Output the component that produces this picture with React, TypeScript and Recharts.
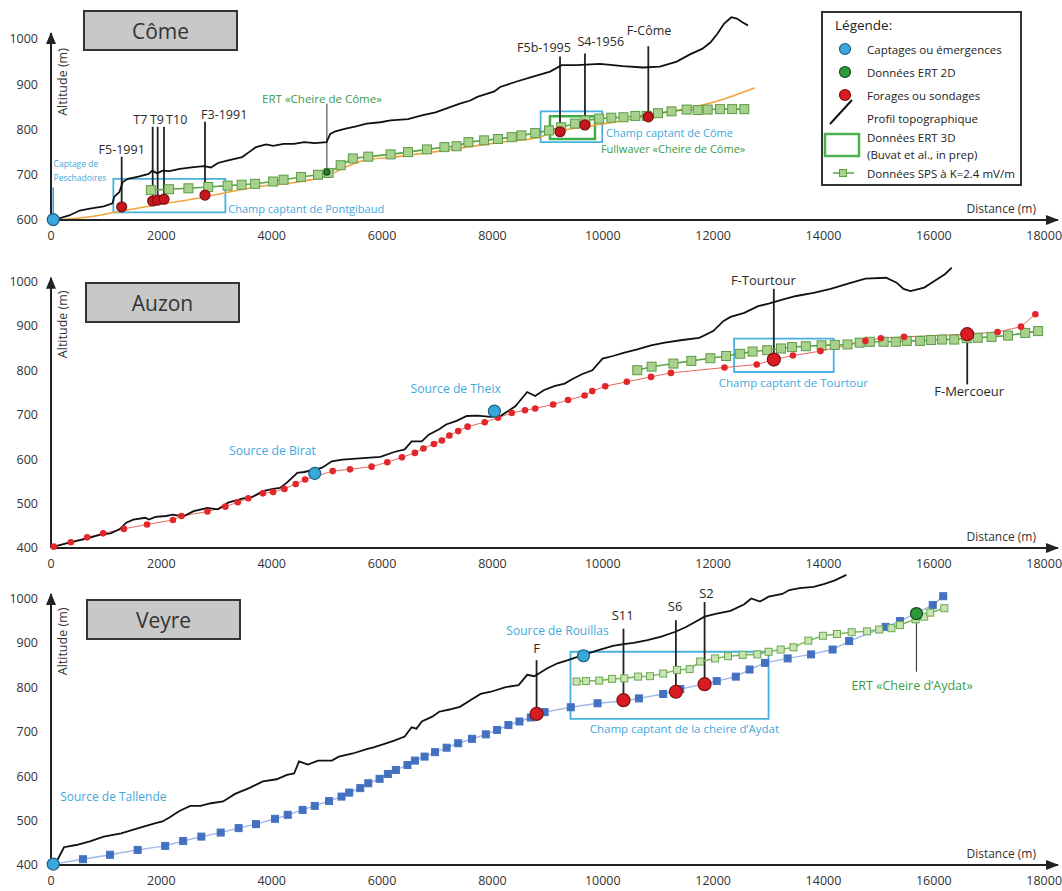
import React from 'react';
import {
	ComposedChart,
	Line,
	Scatter,
	XAxis,
	YAxis,
	ReferenceLine,
	ReferenceArea,
	ReferenceDot,
} from 'recharts';

type Pt = { d: number; alt: number };
type Note = { d: number; alt: number; text: string };
type Bore = { name: string; d: number; alt: number; stemEnd: number; labelD: number; labelAlt: number };
type Zone = { d1: number; d2: number; a1: number; a2: number };

const FONT = '"Open Sans", "Noto Sans", sans-serif';
const DIST_MAX = 18250;
const distanceTicks = [0, 2000, 4000, 6000, 8000, 10000, 12000, 14000, 16000, 18000];

// ---------- Côme ----------
const comeTopo: Pt[] = [
	{ d: 50, alt: 600 }, { d: 330, alt: 610 }, { d: 520, alt: 621 }, { d: 705, alt: 625 }, { d: 955, alt: 630 },
	{ d: 1115, alt: 637 }, { d: 1145, alt: 651 }, { d: 1240, alt: 662 }, { d: 1300, alt: 684 }, { d: 1395, alt: 691 },
	{ d: 1585, alt: 696 }, { d: 1770, alt: 702 }, { d: 1835, alt: 709 }, { d: 1925, alt: 703 }, { d: 2020, alt: 709 },
	{ d: 2145, alt: 708 }, { d: 2335, alt: 713 }, { d: 2585, alt: 717 }, { d: 2775, alt: 719 }, { d: 2900, alt: 716 },
	{ d: 3025, alt: 726 }, { d: 3210, alt: 732 }, { d: 3465, alt: 739 }, { d: 3590, alt: 750 }, { d: 3715, alt: 761 },
	{ d: 3900, alt: 767 }, { d: 4025, alt: 764 }, { d: 4215, alt: 768 }, { d: 4405, alt: 768 }, { d: 4590, alt: 772 },
	{ d: 4780, alt: 770 }, { d: 4995, alt: 772 }, { d: 5060, alt: 790 }, { d: 5155, alt: 796 }, { d: 5340, alt: 802 },
	{ d: 5530, alt: 807 }, { d: 5720, alt: 813 }, { d: 5970, alt: 816 }, { d: 6155, alt: 820 }, { d: 6470, alt: 823 },
	{ d: 6720, alt: 831 }, { d: 6970, alt: 838 }, { d: 7220, alt: 849 }, { d: 7410, alt: 857 }, { d: 7600, alt: 864 },
	{ d: 7725, alt: 872 }, { d: 7910, alt: 879 }, { d: 8035, alt: 884 }, { d: 8140, alt: 894 }, { d: 8440, alt: 906 },
	{ d: 8735, alt: 917 }, { d: 9045, alt: 928 }, { d: 9255, alt: 942 }, { d: 9525, alt: 942 }, { d: 9950, alt: 945 },
	{ d: 10365, alt: 940 }, { d: 10730, alt: 937 }, { d: 11035, alt: 939 }, { d: 11340, alt: 950 }, { d: 11580, alt: 966 },
	{ d: 11800, alt: 978 }, { d: 11950, alt: 992 }, { d: 12080, alt: 1012 }, { d: 12200, alt: 1034 }, { d: 12330, alt: 1048 },
	{ d: 12430, alt: 1045 }, { d: 12530, alt: 1037 }, { d: 12630, alt: 1030 },
];

const comeWaterTable: Pt[] = [
	{ d: 80, alt: 600 }, { d: 705, alt: 607 }, { d: 1280, alt: 620 }, { d: 1895, alt: 633 }, { d: 2790, alt: 651 },
	{ d: 3700, alt: 673 }, { d: 4465, alt: 684 }, { d: 5030, alt: 699 }, { d: 5340, alt: 717 }, { d: 5655, alt: 731 },
	{ d: 6280, alt: 740 }, { d: 6910, alt: 750 }, { d: 7535, alt: 761 }, { d: 8160, alt: 772 }, { d: 8850, alt: 783 },
	{ d: 9120, alt: 794 }, { d: 9745, alt: 807 }, { d: 10375, alt: 820 }, { d: 11000, alt: 835 }, { d: 11500, alt: 846 },
	{ d: 12000, alt: 860 }, { d: 12380, alt: 875 }, { d: 12755, alt: 892 },
];

const comeSps: Pt[] = [
	{ d: 1810, alt: 666 }, { d: 2140, alt: 668 }, { d: 2490, alt: 670 }, { d: 2850, alt: 673 }, { d: 3200, alt: 676 },
	{ d: 3455, alt: 678 }, { d: 3700, alt: 680 }, { d: 4025, alt: 685 }, { d: 4215, alt: 689 }, { d: 4530, alt: 695 },
	{ d: 4840, alt: 700 }, { d: 5030, alt: 704 }, { d: 5250, alt: 721 }, { d: 5470, alt: 736 }, { d: 5750, alt: 740 },
	{ d: 6155, alt: 745 }, { d: 6470, alt: 750 }, { d: 6815, alt: 756 }, { d: 7130, alt: 761 }, { d: 7350, alt: 763 },
	{ d: 7565, alt: 772 }, { d: 7850, alt: 776 }, { d: 8100, alt: 779 }, { d: 8350, alt: 783 }, { d: 8525, alt: 787 },
	{ d: 8775, alt: 792 }, { d: 9025, alt: 798 }, { d: 9245, alt: 805 }, { d: 9495, alt: 813 }, { d: 9685, alt: 820 },
	{ d: 9935, alt: 824 }, { d: 10155, alt: 826 }, { d: 10375, alt: 827 }, { d: 10590, alt: 830 }, { d: 10795, alt: 830 },
	{ d: 11000, alt: 836 }, { d: 11245, alt: 840 }, { d: 11520, alt: 844 }, { d: 11720, alt: 843 }, { d: 11900, alt: 844 },
	{ d: 12125, alt: 845 }, { d: 12345, alt: 845 }, { d: 12565, alt: 845 },
];

const comeBores: Bore[] = [
	{ name: 'F5-1991', d: 1281, alt: 629, stemEnd: 740, labelD: 1281, labelAlt: 755 },
	{ name: 'T7', d: 1843, alt: 642, stemEnd: 806, labelD: 1618, labelAlt: 822 },
	{ name: 'T9', d: 1933, alt: 644, stemEnd: 806, labelD: 1921, labelAlt: 822 },
	{ name: 'T10', d: 2048, alt: 646, stemEnd: 806, labelD: 2278, labelAlt: 822 },
	{ name: 'F3-1991', d: 2791, alt: 655, stemEnd: 817, labelD: 3139, labelAlt: 834 },
	{ name: 'F5b-1995', d: 9225, alt: 795, stemEnd: 961, labelD: 8934, labelAlt: 982 },
	{ name: 'S4-1956', d: 9677, alt: 810, stemEnd: 968, labelD: 9963, labelAlt: 994 },
	{ name: 'F-Côme', d: 10825, alt: 828, stemEnd: 984, labelD: 10838, labelAlt: 1018 },
];
const comeSprings: Pt[] = [{ d: 40, alt: 601 }];
const comeSpringStem = { d: 40, from: 606, to: 672 };
const comeSmallNotes: Note[] = [
	{ d: 47, alt: 724, text: 'Captage de' },
	{ d: 47, alt: 693, text: 'Peschadoires' },
];
const comeErt2d: Pt[] = [{ d: 5000, alt: 706 }];
const comeErtStem = { d: 5000, from: 706, to: 857 };
const comeGreenNotes: Note[] = [{ d: 4911, alt: 868, text: 'ERT «Cheire de Côme»' }];
const comeGreenLeftNotes: Note[] = [{ d: 9966, alt: 757, text: 'Fullwaver «Cheire de Côme»' }];
const comeZones: Zone[] = [
	{ d1: 1130, d2: 3160, a1: 617, a2: 691 },
	{ d1: 8874, d2: 9990, a1: 772, a2: 840 },
];
const comeErt3d: Zone[] = [{ d1: 9043, d2: 9859, a1: 779, a2: 829 }];
const comeBlueLeftNotes: Note[] = [
	{ d: 3212, alt: 625, text: 'Champ captant de Pontgibaud' },
	{ d: 10060, alt: 793, text: 'Champ captant de Côme' },
];

// ---------- Auzon ----------
const auzonTopo: Pt[] = [
	{ d: 50, alt: 403 }, { d: 330, alt: 412 }, { d: 645, alt: 421 }, { d: 895, alt: 430 }, { d: 1080, alt: 433 },
	{ d: 1240, alt: 442 }, { d: 1365, alt: 457 }, { d: 1490, alt: 464 }, { d: 1710, alt: 468 }, { d: 1770, alt: 464 },
	{ d: 1895, alt: 470 }, { d: 2085, alt: 472 }, { d: 2210, alt: 475 }, { d: 2395, alt: 471 }, { d: 2585, alt: 483 },
	{ d: 2835, alt: 490 }, { d: 3025, alt: 487 }, { d: 3210, alt: 502 }, { d: 3465, alt: 511 }, { d: 3650, alt: 515 },
	{ d: 3840, alt: 528 }, { d: 4025, alt: 533 }, { d: 4150, alt: 535 }, { d: 4275, alt: 547 }, { d: 4465, alt: 569 },
	{ d: 4590, alt: 571 }, { d: 4905, alt: 580 }, { d: 5090, alt: 595 }, { d: 5280, alt: 599 }, { d: 5530, alt: 601 },
	{ d: 5720, alt: 603 }, { d: 5970, alt: 605 }, { d: 6220, alt: 616 }, { d: 6410, alt: 622 }, { d: 6535, alt: 640 },
	{ d: 6720, alt: 640 }, { d: 6845, alt: 655 }, { d: 7035, alt: 667 }, { d: 7160, alt: 678 }, { d: 7350, alt: 686 },
	{ d: 7535, alt: 697 }, { d: 7725, alt: 698 }, { d: 7975, alt: 695 }, { d: 8160, alt: 698 }, { d: 8415, alt: 719 },
	{ d: 8630, alt: 751 }, { d: 8775, alt: 742 }, { d: 8930, alt: 755 }, { d: 9120, alt: 764 }, { d: 9310, alt: 770 },
	{ d: 9435, alt: 779 }, { d: 9620, alt: 791 }, { d: 9810, alt: 800 }, { d: 9995, alt: 826 }, { d: 10185, alt: 832 },
	{ d: 10375, alt: 839 }, { d: 10625, alt: 847 }, { d: 10875, alt: 856 }, { d: 11125, alt: 862 }, { d: 11440, alt: 868 },
	{ d: 11750, alt: 873 }, { d: 12000, alt: 888 }, { d: 12190, alt: 911 }, { d: 12315, alt: 920 }, { d: 12565, alt: 929 },
	{ d: 12815, alt: 944 }, { d: 13005, alt: 950 }, { d: 13255, alt: 959 }, { d: 13505, alt: 967 }, { d: 13820, alt: 974 },
	{ d: 14130, alt: 983 }, { d: 14445, alt: 995 }, { d: 14760, alt: 1006 }, { d: 15135, alt: 1008 }, { d: 15325, alt: 997 },
	{ d: 15450, alt: 983 }, { d: 15575, alt: 978 }, { d: 15825, alt: 986 }, { d: 16010, alt: 1001 }, { d: 16200, alt: 1016 },
	{ d: 16325, alt: 1031 },
];

const auzonWaterTable: Pt[] = [
	{ d: 50, alt: 403 }, { d: 360, alt: 413 }, { d: 655, alt: 424 }, { d: 945, alt: 433 }, { d: 1320, alt: 443 },
	{ d: 1740, alt: 453 }, { d: 2210, alt: 463 }, { d: 2365, alt: 472 }, { d: 2835, alt: 482 }, { d: 3160, alt: 493 },
	{ d: 3385, alt: 503 }, { d: 3575, alt: 512 }, { d: 3840, alt: 523 }, { d: 4025, alt: 526 }, { d: 4230, alt: 533 },
	{ d: 4435, alt: 544 }, { d: 4605, alt: 554 }, { d: 5105, alt: 573 }, { d: 5420, alt: 577 }, { d: 5810, alt: 583 },
	{ d: 6095, alt: 593 }, { d: 6360, alt: 604 }, { d: 6595, alt: 614 }, { d: 6750, alt: 624 }, { d: 6940, alt: 634 },
	{ d: 7085, alt: 642 }, { d: 7220, alt: 653 }, { d: 7380, alt: 663 }, { d: 7550, alt: 673 }, { d: 7860, alt: 683 },
	{ d: 8100, alt: 693 }, { d: 8350, alt: 704 }, { d: 8590, alt: 710 }, { d: 8775, alt: 714 }, { d: 9100, alt: 723 },
	{ d: 9370, alt: 733 }, { d: 9670, alt: 743 }, { d: 9810, alt: 753 }, { d: 10045, alt: 764 }, { d: 10435, alt: 774 },
	{ d: 10875, alt: 785 }, { d: 11235, alt: 794 }, { d: 12205, alt: 806 }, { d: 12790, alt: 813 }, { d: 13100, alt: 824 },
	{ d: 13445, alt: 833 }, { d: 13945, alt: 843 }, { d: 14760, alt: 866 }, { d: 15040, alt: 872 }, { d: 15460, alt: 875 },
	{ d: 16605, alt: 881 }, { d: 17155, alt: 886 }, { d: 17580, alt: 898 }, { d: 17840, alt: 926 },
];

const auzonSps: Pt[] = [
	{ d: 10625, alt: 800 }, { d: 10885, alt: 808 }, { d: 11280, alt: 815 }, { d: 11605, alt: 821 }, { d: 11950, alt: 827 },
	{ d: 12235, alt: 832 }, { d: 12490, alt: 837 }, { d: 12715, alt: 842 }, { d: 12980, alt: 845 }, { d: 13230, alt: 849 },
	{ d: 13430, alt: 852 }, { d: 13680, alt: 854 }, { d: 13965, alt: 856 }, { d: 14205, alt: 857 }, { d: 14435, alt: 858 },
	{ d: 14655, alt: 862 }, { d: 14840, alt: 864 }, { d: 15090, alt: 864 }, { d: 15310, alt: 864 }, { d: 15510, alt: 866 },
	{ d: 15750, alt: 866 }, { d: 15950, alt: 868 }, { d: 16150, alt: 869 }, { d: 16370, alt: 869 }, { d: 16595, alt: 872 },
	{ d: 16795, alt: 873 }, { d: 17045, alt: 875 }, { d: 17345, alt: 878 }, { d: 17655, alt: 884 }, { d: 17890, alt: 888 },
];

const auzonBores: Bore[] = [
	{ name: 'F-Tourtour', d: 13100, alt: 824, stemEnd: 983, labelD: 12910, labelAlt: 1004 },
	{ name: 'F-Mercoeur', d: 16605, alt: 881, stemEnd: 768, labelD: 16640, labelAlt: 753 },
];
const auzonSprings: Pt[] = [{ d: 4780, alt: 568 }, { d: 8035, alt: 708 }];
const auzonZones: Zone[] = [{ d1: 12380, d2: 14185, a1: 796, a2: 871 }];
const auzonSourceNotes: Note[] = [
	{ d: 4015, alt: 619, text: 'Source de Birat' },
	{ d: 7335, alt: 758, text: 'Source de Theix' },
];
const auzonFieldNotes: Note[] = [{ d: 13455, alt: 772, text: 'Champ captant de Tourtour' }];

// ---------- Veyre ----------
const veyreTopo: Pt[] = [
	{ d: 80, alt: 404 }, { d: 140, alt: 417 }, { d: 235, alt: 440 }, { d: 455, alt: 445 }, { d: 705, alt: 453 },
	{ d: 955, alt: 464 }, { d: 1270, alt: 471 }, { d: 1585, alt: 483 }, { d: 1895, alt: 494 }, { d: 2020, alt: 498 },
	{ d: 2145, alt: 507 }, { d: 2335, alt: 522 }, { d: 2525, alt: 533 }, { d: 2710, alt: 533 }, { d: 2900, alt: 539 },
	{ d: 3120, alt: 543 }, { d: 3335, alt: 560 }, { d: 3590, alt: 573 }, { d: 3840, alt: 588 }, { d: 4090, alt: 593 },
	{ d: 4275, alt: 603 }, { d: 4405, alt: 606 }, { d: 4495, alt: 633 }, { d: 4655, alt: 626 }, { d: 4840, alt: 635 },
	{ d: 5090, alt: 635 }, { d: 5215, alt: 644 }, { d: 5470, alt: 651 }, { d: 5720, alt: 661 }, { d: 5845, alt: 665 },
	{ d: 6030, alt: 672 }, { d: 6220, alt: 680 }, { d: 6410, alt: 689 }, { d: 6535, alt: 710 }, { d: 6625, alt: 707 },
	{ d: 6720, alt: 723 }, { d: 6910, alt: 734 }, { d: 7035, alt: 745 }, { d: 7220, alt: 750 }, { d: 7410, alt: 756 },
	{ d: 7600, alt: 771 }, { d: 7785, alt: 785 }, { d: 7975, alt: 790 }, { d: 8225, alt: 800 }, { d: 8475, alt: 805 },
	{ d: 8630, alt: 828 }, { d: 8760, alt: 825 }, { d: 8995, alt: 843 }, { d: 9180, alt: 854 }, { d: 9370, alt: 861 },
	{ d: 9650, alt: 873 }, { d: 9935, alt: 884 }, { d: 10185, alt: 893 }, { d: 10375, alt: 897 }, { d: 10560, alt: 900 },
	{ d: 10810, alt: 906 }, { d: 11060, alt: 914 }, { d: 11315, alt: 925 }, { d: 11500, alt: 935 }, { d: 11690, alt: 948 },
	{ d: 11845, alt: 959 }, { d: 12065, alt: 966 }, { d: 12315, alt: 972 }, { d: 12565, alt: 987 }, { d: 12690, alt: 1000 },
	{ d: 12850, alt: 993 }, { d: 13005, alt: 1004 }, { d: 13255, alt: 1010 }, { d: 13380, alt: 1019 }, { d: 13570, alt: 1023 },
	{ d: 13820, alt: 1026 }, { d: 14005, alt: 1032 }, { d: 14195, alt: 1040 }, { d: 14415, alt: 1053 },
];

const veyreWaterTable: Pt[] = [
	{ d: 40, alt: 402 }, { d: 580, alt: 413 }, { d: 1070, alt: 423 }, { d: 1570, alt: 434 }, { d: 2070, alt: 443 },
	{ d: 2395, alt: 454 }, { d: 2725, alt: 464 }, { d: 3075, alt: 473 }, { d: 3400, alt: 483 }, { d: 3715, alt: 492 },
	{ d: 4060, alt: 504 }, { d: 4290, alt: 513 }, { d: 4560, alt: 524 }, { d: 4780, alt: 533 }, { d: 5040, alt: 544 },
	{ d: 5265, alt: 554 }, { d: 5405, alt: 563 }, { d: 5605, alt: 573 }, { d: 5750, alt: 584 }, { d: 5955, alt: 594 },
	{ d: 6105, alt: 605 }, { d: 6250, alt: 614 }, { d: 6460, alt: 625 }, { d: 6595, alt: 635 }, { d: 6770, alt: 644 },
	{ d: 6960, alt: 654 }, { d: 7170, alt: 664 }, { d: 7380, alt: 674 }, { d: 7630, alt: 684 }, { d: 7880, alt: 694 },
	{ d: 8085, alt: 704 }, { d: 8290, alt: 715 }, { d: 8490, alt: 723 }, { d: 8695, alt: 732 }, { d: 8945, alt: 744 },
	{ d: 9420, alt: 755 }, { d: 9905, alt: 764 }, { d: 10380, alt: 769 }, { d: 10655, alt: 775 }, { d: 11095, alt: 785 },
	{ d: 11405, alt: 796 }, { d: 12065, alt: 814 }, { d: 12410, alt: 824 }, { d: 12660, alt: 840 }, { d: 12940, alt: 855 },
	{ d: 13350, alt: 865 }, { d: 13775, alt: 874 }, { d: 14165, alt: 885 }, { d: 14465, alt: 904 }, { d: 15125, alt: 936 },
	{ d: 15385, alt: 949 }, { d: 15980, alt: 985 }, { d: 16170, alt: 1005 },
];

const veyreSps: Pt[] = [
	{ d: 9525, alt: 813 }, { d: 9695, alt: 814 }, { d: 9935, alt: 815 }, { d: 10170, alt: 819 }, { d: 10390, alt: 820 },
	{ d: 10640, alt: 824 }, { d: 10855, alt: 825 }, { d: 11095, alt: 831 }, { d: 11345, alt: 839 }, { d: 11575, alt: 841 },
	{ d: 11765, alt: 858 }, { d: 12035, alt: 865 }, { d: 12270, alt: 870 }, { d: 12535, alt: 873 }, { d: 12800, alt: 874 },
	{ d: 13005, alt: 880 }, { d: 13225, alt: 885 }, { d: 13455, alt: 890 }, { d: 13725, alt: 905 }, { d: 13990, alt: 916 },
	{ d: 14245, alt: 920 }, { d: 14510, alt: 924 }, { d: 14790, alt: 926 }, { d: 15010, alt: 930 }, { d: 15230, alt: 933 },
	{ d: 15385, alt: 940 }, { d: 15670, alt: 953 }, { d: 15825, alt: 959 }, { d: 15935, alt: 968 }, { d: 16190, alt: 978 },
];

const veyreBores: Bore[] = [
	{ name: 'F', d: 8800, alt: 740, stemEnd: 861, labelD: 8800, labelAlt: 888 },
	{ name: 'S11', d: 10375, alt: 771, stemEnd: 932, labelD: 10360, labelAlt: 963 },
	{ name: 'S6', d: 11325, alt: 790, stemEnd: 951, labelD: 11310, labelAlt: 983 },
	{ name: 'S2', d: 11845, alt: 807, stemEnd: 992, labelD: 11880, labelAlt: 1013 },
];
const veyreSprings: Pt[] = [{ d: 40, alt: 402 }, { d: 9650, alt: 871 }];
const veyreErt2d: Pt[] = [{ d: 15685, alt: 966 }];
const veyreErtStem = { d: 15685, from: 961, to: 835 };
const veyreZones: Zone[] = [{ d1: 9415, d2: 13005, a1: 729, a2: 880 }];
const veyreSourceNotes: Note[] = [
	{ d: 1130, alt: 554, text: 'Source de Tallende' },
	{ d: 9180, alt: 927, text: 'Source de Rouillas' },
];
const veyreFieldNotes: Note[] = [{ d: 11480, alt: 708, text: 'Champ captant de la cheire d’Aydat' }];
const veyreGreenNotes: Note[] = [{ d: 15605, alt: 805, text: 'ERT «Cheire d’Aydat»' }];

// ---------- shapes ----------
const INK = '#222';
const BLUE = '#3aa7da';
const BLUE_TXT = '#3fa9dc';
const GREEN_TXT = '#3a9b48';

const textShape = (size: number, color: string, anchor: 'start' | 'middle' = 'middle') => (p: any) => (
	<text
		x={p.cx}
		y={p.cy}
		textAnchor={anchor}
		dominantBaseline="central"
		fontSize={size}
		fill={color}
		fontFamily={FONT}
	>
		{p.payload.text}
	</text>
);

const circleShape = (r: number, fill: string, stroke: string) => (p: any) => (
	<circle cx={p.cx} cy={p.cy} r={r} fill={fill} stroke={stroke} strokeWidth={1.2} />
);

const squareDot = (size: number, fill: string, stroke: string) => (p: any) => (
	<rect
		key={`sq-${p.index}`}
		x={p.cx - size / 2}
		y={p.cy - size / 2}
		width={size}
		height={size}
		fill={fill}
		stroke={stroke}
		strokeWidth={1}
	/>
);

const roundDot = (r: number, fill: string) => (p: any) => (
	<circle key={`rd-${p.index}`} cx={p.cx} cy={p.cy} r={r} fill={fill} />
);

const xArrow = (p: any) => (
	<path d={`M${p.cx + 1},${p.cy} L${p.cx - 12},${p.cy - 5} L${p.cx - 12},${p.cy + 5} Z`} fill={INK} />
);
const yArrow = (p: any) => (
	<path d={`M${p.cx},${p.cy - 1} L${p.cx - 5},${p.cy + 11} L${p.cx + 5},${p.cy + 11} Z`} fill={INK} />
);

const boreStems = (bores: Bore[], key: string) =>
	bores.map((b) => (
		<ReferenceLine
			key={`${key}-${b.name}`}
			segment={[{ x: b.d, y: b.alt }, { x: b.d, y: b.stemEnd }]}
			stroke={INK}
			strokeWidth={1.8}
		/>
	));

const zoneBoxes = (zones: Zone[], key: string, color: string, width: number) =>
	zones.map((z, i) => (
		<ReferenceArea
			key={`${key}-${i}`}
			x1={z.d1}
			x2={z.d2}
			y1={z.a1}
			y2={z.a2}
			fill="none"
			fillOpacity={0}
			stroke={color}
			strokeWidth={width}
		/>
	));

const boreLabels = (bores: Bore[]) => bores.map((b) => ({ d: b.labelD, alt: b.labelAlt, text: b.name }));

interface PanelProps {
	top: number;
	height: number;
	marginTop: number;
	yMin: number;
	yMax: number;
	yTicks: number[];
	arrowAlt: number;
	children: React.ReactNode;
}

const AltitudeLabel = (yMin: number, yMax: number) => (p: any) => {
	const vb = p.viewBox;
	const y1000 = vb.y + vb.height * (1 - (1000 - yMin) / (yMax - yMin));
	const x = vb.x + vb.width + 12;
	const y = y1000 + 43;
	return (
		<text
			x={x}
			y={y}
			transform={`rotate(-90 ${x} ${y})`}
			textAnchor="middle"
			dominantBaseline="central"
			fontSize={12.5}
			fill="#333"
			fontFamily={FONT}
		>
			Altitude (m)
		</text>
	);
};

const DistanceLabel = (p: any) => {
	const vb = p.viewBox;
	return (
		<text
			x={vb.x + vb.width - 22}
			y={vb.y - 12}
			textAnchor="end"
			dominantBaseline="central"
			fontSize={12}
			fill="#333"
			fontFamily={FONT}
		>
			Distance (m)
		</text>
	);
};

const ProfileChart = (props: PanelProps) => {
	const { top, height, marginTop, yMin, yMax, yTicks, arrowAlt } = props;
	return (
		<div style={{ position: 'absolute', left: 0, top }}>
			<ComposedChart width={1062} height={height} margin={{ top: marginTop, right: 4, bottom: 0, left: 11 }}>
				<XAxis
					type="number"
					dataKey="d"
					domain={[0, DIST_MAX]}
					ticks={distanceTicks}
					interval={0}
					height={26}
					tickLine={false}
					tickSize={0}
					tickMargin={11}
					axisLine={{ stroke: INK, strokeWidth: 2 }}
					tick={{ fontSize: 12.5, fill: '#333', fontFamily: FONT }}
					label={{ content: DistanceLabel }}
				/>
				<YAxis
					type="number"
					dataKey="alt"
					domain={[yMin, yMax]}
					ticks={yTicks}
					interval={0}
					width={40}
					axisLine={false}
					tickLine={false}
					tickSize={0}
					tickMargin={13}
					tick={{ fontSize: 12.5, fill: '#333', fontFamily: FONT }}
					label={{ content: AltitudeLabel(yMin, yMax) }}
				/>
				<ReferenceLine
					segment={[{ x: 0, y: yMin }, { x: 0, y: arrowAlt }]}
					stroke={INK}
					strokeWidth={2}
				/>
				<ReferenceDot x={0} y={arrowAlt} r={0} shape={yArrow} />
				<ReferenceDot x={DIST_MAX} y={yMin} r={0} shape={xArrow} />
				{props.children}
			</ComposedChart>
		</div>
	);
};

const TitleBox = (p: { left: number; top: number; text: string }) => (
	<div
		style={{
			position: 'absolute',
			left: p.left,
			top: p.top,
			width: 155,
			height: 41,
			boxSizing: 'border-box',
			background: '#c8c8c8',
			border: '2px solid #333',
			display: 'flex',
			alignItems: 'center',
			justifyContent: 'center',
			fontFamily: FONT,
			fontSize: 21,
			color: '#333',
		}}
	>
		{p.text}
	</div>
);

const legendRows = [
	'Captages ou émergences',
	'Données ERT 2D',
	'Forages ou sondages',
	'Profil topographique',
	'Données ERT 3D',
	'(Buvat et al., in prep)',
	'Données SPS à K=2.4 mV/m',
];

const LegendBox = () => {
	const rowY = [38, 61, 84, 107, 126, 143, 162];
	return (
		<svg style={{ position: 'absolute', left: 821, top: 11 }} width={201} height={175}>
			<rect x={1} y={1} width={199} height={173} fill="#fff" stroke="#333" strokeWidth={2} />
			<text x={14} y={14} dominantBaseline="central" fontSize={13.5} fill="#222" fontFamily={FONT}>
				Légende:
			</text>
			<circle cx={24} cy={rowY[0]} r={5.5} fill={BLUE} stroke="#1d5f86" strokeWidth={1.2} />
			<circle cx={24} cy={rowY[1]} r={5.5} fill="#2f9a3c" stroke="#154d1b" strokeWidth={1.2} />
			<circle cx={24} cy={rowY[2]} r={5.5} fill="#d91c24" stroke="#7a0f0f" strokeWidth={1.2} />
			<line x1={9} y1={113} x2={31} y2={89} stroke="#111" strokeWidth={2} />
			<rect x={4} y={123} width={34} height={22} fill="none" stroke="#4caf50" strokeWidth={2.5} />
			<line x1={12} y1={rowY[6]} x2={33} y2={rowY[6]} stroke="#5aa545" strokeWidth={1.5} />
			<rect x={18.5} y={rowY[6] - 3.5} width={7} height={7} fill="#a9d18e" stroke="#5b9b45" />
			{legendRows.map((t, i) => (
				<text
					key={t}
					x={46}
					y={rowY[i]}
					dominantBaseline="central"
					fontSize={11.5}
					fill="#222"
					fontFamily={FONT}
				>
					{t}
				</text>
			))}
		</svg>
	);
};

const App = () => {
	return (
		<div
			style={{
				position: 'absolute',
				left: 0,
				top: 0,
				width: 1062,
				height: 891,
				background: '#fff',
				overflow: 'hidden',
			}}
		>
			{/* Côme */}
			<ProfileChart top={0} height={246} marginTop={10} yMin={600} yMax={1064} yTicks={[600, 700, 800, 900, 1000]} arrowAlt={1013}>
				{zoneBoxes(comeZones, 'cz', '#48b1e0', 1.8)}
				{zoneBoxes(comeErt3d, 'ce', '#3fae49', 2.5)}
				{boreStems(comeBores, 'cs')}
				<ReferenceLine
					segment={[{ x: comeSpringStem.d, y: comeSpringStem.from }, { x: comeSpringStem.d, y: comeSpringStem.to }]}
					stroke={BLUE}
					strokeWidth={1.6}
				/>
				<ReferenceLine
					segment={[{ x: comeErtStem.d, y: comeErtStem.from }, { x: comeErtStem.d, y: comeErtStem.to }]}
					stroke="#333"
					strokeWidth={1}
				/>
				<Line data={comeWaterTable} dataKey="alt" type="monotone" stroke="#f2a43a" strokeWidth={1.6} dot={false} isAnimationActive={false} />
				<Line data={comeSps} dataKey="alt" type="linear" stroke="#5aa545" strokeWidth={1.6} dot={squareDot(9, '#a9d18e', '#5b9b45')} isAnimationActive={false} />
				<Line data={comeTopo} dataKey="alt" type="linear" stroke="#111" strokeWidth={1.8} dot={false} isAnimationActive={false} />
				<Scatter data={comeErt2d} dataKey="alt" shape={circleShape(3, '#2f7a34', '#1d4a20')} isAnimationActive={false} />
				<Scatter data={comeBores} dataKey="alt" shape={circleShape(5, '#c8161d', '#7a0f0f')} isAnimationActive={false} />
				<Scatter data={comeSprings} dataKey="alt" shape={circleShape(6, BLUE, '#1d5f86')} isAnimationActive={false} />
				<Scatter data={boreLabels(comeBores)} dataKey="alt" shape={textShape(12.5, '#2a2a2a')} isAnimationActive={false} />
				<Scatter data={comeSmallNotes} dataKey="alt" shape={textShape(8.5, BLUE_TXT, 'start')} isAnimationActive={false} />
				<Scatter data={comeGreenNotes} dataKey="alt" shape={textShape(11.5, GREEN_TXT)} isAnimationActive={false} />
				<Scatter data={comeGreenLeftNotes} dataKey="alt" shape={textShape(11, GREEN_TXT, 'start')} isAnimationActive={false} />
				<Scatter data={comeBlueLeftNotes} dataKey="alt" shape={textShape(11, BLUE_TXT, 'start')} isAnimationActive={false} />
			</ProfileChart>

			{/* Auzon */}
			<ProfileChart top={252} height={322} marginTop={8} yMin={400} yMax={1048} yTicks={[400, 500, 600, 700, 800, 900, 1000]} arrowAlt={1008}>
				{zoneBoxes(auzonZones, 'az', '#48b1e0', 1.8)}
				{boreStems(auzonBores, 'as')}
				<Line data={auzonSps} dataKey="alt" type="linear" stroke="#5aa545" strokeWidth={1.6} dot={squareDot(9, '#a9d18e', '#5b9b45')} isAnimationActive={false} />
				<Line data={auzonWaterTable} dataKey="alt" type="linear" stroke="#e8685a" strokeWidth={1} dot={roundDot(3.3, '#e3262b')} isAnimationActive={false} />
				<Line data={auzonTopo} dataKey="alt" type="linear" stroke="#111" strokeWidth={1.8} dot={false} isAnimationActive={false} />
				<Scatter data={auzonBores} dataKey="alt" shape={circleShape(6.5, '#d91c24', '#7a0f0f')} isAnimationActive={false} />
				<Scatter data={auzonSprings} dataKey="alt" shape={circleShape(6, BLUE, '#1d5f86')} isAnimationActive={false} />
				<Scatter data={boreLabels(auzonBores)} dataKey="alt" shape={textShape(13, '#2a2a2a')} isAnimationActive={false} />
				<Scatter data={auzonSourceNotes} dataKey="alt" shape={textShape(12.2, BLUE_TXT)} isAnimationActive={false} />
				<Scatter data={auzonFieldNotes} dataKey="alt" shape={textShape(11.5, BLUE_TXT)} isAnimationActive={false} />
			</ProfileChart>

			{/* Veyre */}
			<ProfileChart top={574} height={317} marginTop={0} yMin={400} yMax={1055} yTicks={[400, 500, 600, 700, 800, 900, 1000]} arrowAlt={1010}>
				{zoneBoxes(veyreZones, 'vz', '#48b1e0', 1.8)}
				{boreStems(veyreBores, 'vs')}
				<ReferenceLine
					segment={[{ x: veyreErtStem.d, y: veyreErtStem.from }, { x: veyreErtStem.d, y: veyreErtStem.to }]}
					stroke="#444"
					strokeWidth={1.2}
				/>
				<Line data={veyreWaterTable} dataKey="alt" type="linear" stroke="#9fb6e3" strokeWidth={1.4} dot={squareDot(7, '#4470c0', '#4470c0')} isAnimationActive={false} />
				<Line data={veyreSps} dataKey="alt" type="linear" stroke="#7fba5a" strokeWidth={1.6} dot={squareDot(7, '#c9e3b5', '#6aa84f')} isAnimationActive={false} />
				<Line data={veyreTopo} dataKey="alt" type="linear" stroke="#111" strokeWidth={1.8} dot={false} isAnimationActive={false} />
				<Scatter data={veyreBores} dataKey="alt" shape={circleShape(6.5, '#d91c24', '#7a0f0f')} isAnimationActive={false} />
				<Scatter data={veyreSprings} dataKey="alt" shape={circleShape(6, BLUE, '#1d5f86')} isAnimationActive={false} />
				<Scatter data={veyreErt2d} dataKey="alt" shape={circleShape(6, '#2f9a3c', '#154d1b')} isAnimationActive={false} />
				<Scatter data={boreLabels(veyreBores)} dataKey="alt" shape={textShape(13, '#2a2a2a')} isAnimationActive={false} />
				<Scatter data={veyreSourceNotes} dataKey="alt" shape={textShape(12, BLUE_TXT)} isAnimationActive={false} />
				<Scatter data={veyreFieldNotes} dataKey="alt" shape={textShape(11.5, BLUE_TXT)} isAnimationActive={false} />
				<Scatter data={veyreGreenNotes} dataKey="alt" shape={textShape(12.5, GREEN_TXT)} isAnimationActive={false} />
			</ProfileChart>

			<TitleBox left={83} top={10} text="Côme" />
			<TitleBox left={85} top={282} text="Auzon" />
			<TitleBox left={86} top={599} text="Veyre" />
			<LegendBox />
		</div>
	);
};

export default App;
